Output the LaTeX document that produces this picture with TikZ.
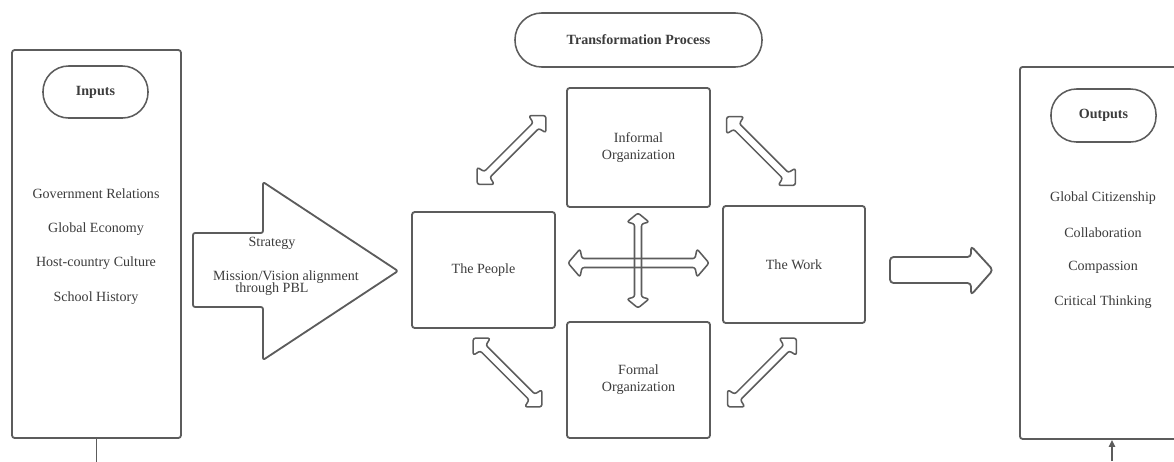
\documentclass[tikz,border=0pt]{standalone}
\usepackage{fontspec}
\setmainfont{Liberation Serif}
\usetikzlibrary{arrows.meta}

\definecolor{boxgray}{HTML}{5C5C5C}
\definecolor{txtgray}{HTML}{3C3C3C}

\begin{document}
\begin{tikzpicture}[x=0.025cm, y=-0.025cm,
  every node/.style={font=\fontsize{10}{12}\selectfont, text=txtgray},
  box/.style={draw=boxgray, line width=1.3pt, rounded corners=2pt, inner sep=0pt},
  pill/.style={draw=boxgray, line width=1.1pt, rounded corners=0.64cm, inner sep=0pt, font=\bfseries\fontsize{10}{12}\selectfont},
  hollow/.style={draw=boxgray, line width=1.1pt, rounded corners=1.5pt, line join=round},
  pics/dblarrow/.style n args={4}{code={
    \draw[hollow] (-#1,0) -- (-#1+#4,-#3) -- (-#1+#4+2,-#2) -- (#1-#4-2,-#2) -- (#1-#4,-#3)
      -- (#1,0) -- (#1-#4,#3) -- (#1-#4-2,#2) -- (-#1+#4+2,#2) -- (-#1+#4,#3) -- cycle;
  }}]
\useasboundingbox (0,0) rectangle (1174,461);
\clip (0,0) rectangle (1174,461);

% inputs
\node[box, minimum width=4.225cm, minimum height=9.7cm] (inputs) at (96.5,244) {};
\node[pill, minimum width=2.625cm, minimum height=1.3cm] (inputsTitle) at (95.5,92) {Inputs};
\foreach \t [count=\i] in {Government Relations, Global Economy, Host-country Culture, School History}{
  \node (in\i) at (96,159.3+34.7*\i) {\t};
}
\draw[boxgray, line width=1.1pt] (inputs.south) -- ++(0,25);

% strategy arrow
\draw[hollow, line width=1.3pt] (193,233) -- (263,233) -- (263,182) -- (398,271) -- (263,360) -- (263,307) -- (193,307) -- cycle;
\node (strategy) at (272,243) {Strategy};
\node (mission) at (286,277) {Mission/Vision alignment};
\node (pbl) at (272,289.5) {through PBL};

% transformation process
\node[pill, minimum width=6.175cm, minimum height=1.35cm, rounded corners=0.67cm] (process) at (638.5,40) {Transformation Process};
\node[box, minimum width=3.575cm, minimum height=2.975cm, align=center] (informal) at (638.5,147.5) {Informal\\Organization};
\node[box, minimum width=3.575cm, minimum height=2.9cm] (people) at (483.5,270) {The People};
\node[box, minimum width=3.575cm, minimum height=2.9cm, align=center] (formal) at (638.5,380) {Formal\\Organization};
\node[box, minimum width=3.55cm, minimum height=2.925cm] (work) at (794,264.5) {The Work};

\pic[rotate=45] (tl) at (511.5,150) {dblarrow={48.5}{4}{12}{12}};
\pic[rotate=-45] (tr) at (761,151) {dblarrow={48.5}{4}{12}{12}};
\pic[rotate=-45] (bl) at (507.5,372.5) {dblarrow={48.5}{4}{12}{12}};
\pic[rotate=45] (br) at (762,372.5) {dblarrow={48.5}{4}{12}{12}};
\pic (horiz) at (638.5,263) {dblarrow={70.5}{4.5}{14}{12}};
\pic[rotate=90] (vert) at (638,260.5) {dblarrow={47.5}{3.5}{11}{9}};

% result arrow
\draw[hollow, line width=1.3pt, rounded corners=2.5pt] (890,257) -- (971,257) -- (971,246) -- (993,270) -- (971,295) -- (971,283) -- (890,283) -- cycle;

% outputs
\node[box, minimum width=4.5cm, minimum height=9.3cm, anchor=north west] (outputs) at (1019,66) {};
\node[pill, minimum width=2.625cm, minimum height=1.325cm] (outputsTitle) at (1103.5,115.5) {Outputs};
\foreach \t [count=\i] in {Global Citizenship, Collaboration, Compassion, Critical Thinking}{
  \node (out\i) at (1103,164+34.5*\i) {\t};
}
\coordinate (outfeed) at (1112,461);
\draw[boxgray, line width=1.1pt, -{Triangle[width=4.5pt,length=5pt]}] (outfeed) -- (outfeed |- outputs.south);
\end{tikzpicture}
\end{document}
